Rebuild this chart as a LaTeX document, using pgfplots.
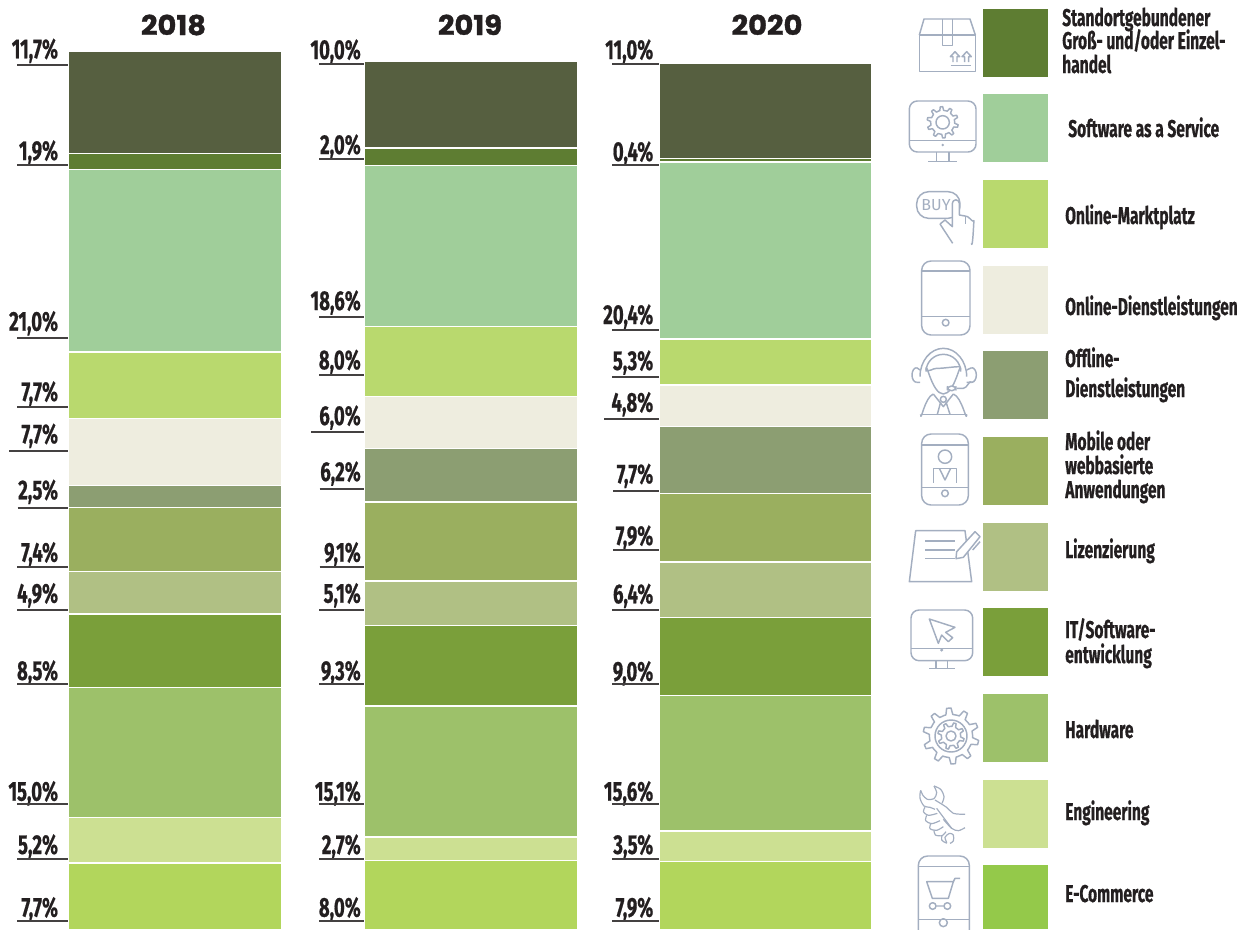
\documentclass[border=0pt]{standalone}
\usepackage{pgfplots}
\pgfplotsset{compat=1.18}
\usepackage{fontspec}
\setmainfont{Fira Sans}
\newfontfamily\condfont[FakeStretch=0.64,BoldFeatures={FakeBold=0.6}]{Fira Sans}
\newfontfamily\labfont[FakeStretch=0.68,BoldFeatures={FakeBold=0.6}]{Fira Sans}
\newfontfamily\titlefont[FakeStretch=1.06,BoldFeatures={FakeBold=1.2}]{Poppins}
\definecolor{cTop}{HTML}{565F40}
\definecolor{cRetail}{HTML}{5E7D32}
\definecolor{cSaas}{HTML}{A0CE9A}
\definecolor{cMarket}{HTML}{B9D96E}
\definecolor{cOnline}{HTML}{EEEDDF}
\definecolor{cOffline}{HTML}{8C9E72}
\definecolor{cMobile}{HTML}{9AAF5F}
\definecolor{cLicense}{HTML}{B0C084}
\definecolor{cIT}{HTML}{7A9F3A}
\definecolor{cHard}{HTML}{9DC16A}
\definecolor{cEng}{HTML}{CCE092}
\definecolor{cEcomBar}{HTML}{B2D65C}
\definecolor{cEcom}{HTML}{94C94A}
\definecolor{ink}{HTML}{231F20}
\definecolor{icon}{HTML}{A3AEC0}
\newcommand{\lab}[5]{% xright, baseline, text, rule start, rule end
  \node[anchor=base east,inner sep=0pt,text=ink,font=\labfont\bfseries\fontsize{20.5}{20.5}\selectfont] at (#1,#2) {#3};
  \draw[line width=1.25pt,color=ink!85] (#4) -- (#5);}
\newcommand{\leg}[3]{\node[anchor=base west,inner sep=0pt,text=ink,font=\condfont\bfseries\fontsize{18.2}{18.2}\selectfont] at (#1,#2) {#3};}
\newcommand{\gear}[5]{% cx cy Rout Rin n
  \begin{scope}[shift={(#1,#2)}]
  \pgfmathsetmacro\st{360/#5}
  \draw (0:#4) \foreach \i in {1,...,#5} {
    -- ({(\i-1)*\st+0.12*\st}:#4) -- ({(\i-1)*\st+0.25*\st}:#3) -- ({(\i-1)*\st+0.5*\st}:#3) -- ({(\i-1)*\st+0.63*\st}:#4) -- ({\i*\st}:#4)} -- cycle;
  \end{scope}}
\begin{document}
\begin{tikzpicture}[x=0.75pt,y=-0.75pt]
\useasboundingbox (0,0) rectangle (1239,929);
\begin{axis}[at={(0pt,-697.3pt)},anchor=south west,scale only axis,width=929.25pt,height=696.75pt,
  xmin=0,xmax=1239,ymin=0,ymax=107.08,hide axis,clip=false,
  ybar stacked,bar width=213,
  every axis plot/.append style={draw=white,line width=1pt}]
\addplot[fill=cEcomBar] coordinates {(175,7.7)(471,8.0)(765.5,7.9)};
\addplot[fill=cEng] coordinates {(175,5.2)(471,2.7)(765.5,3.5)};
\addplot[fill=cHard] coordinates {(175,15.0)(471,15.1)(765.5,15.6)};
\addplot[fill=cIT] coordinates {(175,8.5)(471,9.3)(765.5,9.0)};
\addplot[fill=cLicense] coordinates {(175,4.9)(471,5.1)(765.5,6.4)};
\addplot[fill=cMobile] coordinates {(175,7.4)(471,9.1)(765.5,7.9)};
\addplot[fill=cOffline] coordinates {(175,2.5)(471,6.2)(765.5,7.7)};
\addplot[fill=cOnline] coordinates {(175,7.7)(471,6.0)(765.5,4.8)};
\addplot[fill=cMarket] coordinates {(175,7.7)(471,8.0)(765.5,5.3)};
\addplot[fill=cSaas] coordinates {(175,21.0)(471,18.6)(765.5,20.4)};
\addplot[fill=cRetail] coordinates {(175,1.9)(471,2.0)(765.5,0.4)};
\addplot[fill=cTop] coordinates {(175,11.7)(471,10.0)(765.5,11.0)};
\end{axis}
% titles
\foreach \x/\t in {173.5/2018,470/2019,767/2020}
  \node[anchor=base,inner sep=0pt,text=ink,font=\titlefont\bfseries\fontsize{20.5}{20.5}\selectfont] at (\x,35) {\t};
% labels 2018
\lab{58.3}{58.3}{11,7\%}{17,64.7}{68,64.7}
\lab{58.3}{160}{1,9\%}{17,165}{68,165}
\lab{58.3}{330.7}{21,0\%}{17,337.7}{68,337.7}
\lab{58.3}{401}{7,7\%}{17,407.3}{68,407.3}
\lab{58.3}{443.3}{7,7\%}{9,451}{68,451}
\lab{58.3}{499.3}{2,5\%}{17.5,507.7}{68,507.7}
\lab{58.3}{561.7}{7,4\%}{17,566.7}{68,566.7}
\lab{58.3}{602.7}{4,9\%}{17,610}{68,610}
\lab{58.3}{680}{8,5\%}{17,684.3}{68,684.3}
\lab{58.3}{800.7}{15,0\%}{17,804}{68,804}
\lab{58.3}{854}{5,2\%}{17,859.3}{68,859.3}
\lab{58.3}{916.7}{7,7\%}{17,921}{68,921}
% labels 2019
\lab{361}{59}{10,0\%}{319,64.3}{363.5,64.3}
\lab{361}{154}{2,0\%}{319,159.3}{363.5,159.3}
\lab{361}{310}{18,6\%}{319,316.7}{363.5,316.7}
\lab{361}{369.3}{8,0\%}{319,375}{363.5,375}
\lab{361}{425}{6,0\%}{311,432.3}{363.5,432.3}
\lab{361}{481}{6,2\%}{319.5,489}{363.5,489}
\lab{361}{561.7}{9,1\%}{319.5,566.7}{363.5,566.7}
\lab{361}{602.7}{5,1\%}{319,610}{363.5,610}
\lab{361}{680}{9,3\%}{319,684.3}{363.5,684.3}
\lab{361}{800.7}{15,1\%}{319,804}{363.5,804}
\lab{361}{854}{2,7\%}{319,859.3}{363.5,859.3}
\lab{361}{916.7}{8,0\%}{319,921}{363.5,921}
% labels 2020
\lab{653.5}{59}{11,0\%}{612,64.3}{659,64.3}
\lab{653.5}{161}{0,4\%}{612,165}{659,165}
\lab{653.5}{324}{20,4\%}{612,330}{659,330}
\lab{653.5}{370}{5,3\%}{612,377}{659,377}
\lab{653.5}{411.7}{4,8\%}{604,418.7}{659,418.7}
\lab{653.5}{483.3}{7,7\%}{613,490.7}{659,490.7}
\lab{653.5}{545}{7,9\%}{613,549.7}{659,549.7}
\lab{653.5}{603.3}{6,4\%}{612,610}{659,610}
\lab{653.5}{680.7}{9,0\%}{612,684.3}{659,684.3}
\lab{653.5}{800.7}{15,6\%}{612,804}{659,804}
\lab{653.5}{854}{3,5\%}{612,859.3}{659,859.3}
\lab{653.5}{916.7}{7,9\%}{612,921}{659,921}
% legend swatches
\foreach \ya/\yb/\c in {9/77/cRetail,94/162/cSaas,180/248/cMarket,266/334/cOnline,351/419/cOffline,437/505/cMobile,523/591/cLicense,608/676/cIT,694/762/cHard,780/848/cEng,865/929/cEcom}
  \fill[\c] (983,\ya) rectangle (1048,\yb);
% legend text
\leg{1062}{26}{Standortgebundener}
\leg{1062}{49}{Groß- und/oder Einzel-}
\leg{1062}{73}{handel}
\leg{1068}{137}{Software as a Service}
\leg{1065}{224}{Online-Marktplatz}
\leg{1065}{315}{Online-Dienstleistungen}
\leg{1065}{367}{Offline-}
\leg{1065}{397}{Dienstleistungen}
\leg{1065}{450}{Mobile oder}
\leg{1065}{474}{webbasierte}
\leg{1065}{498}{Anwendungen}
\leg{1065}{558}{Lizenzierung}
\leg{1065}{638}{IT/Software-}
\leg{1065}{663}{entwicklung}
\leg{1065}{738}{Hardware}
\leg{1065}{820}{Engineering}
\leg{1065}{902}{E-Commerce}
% icons, in zoomed coordinates (3x)
\begin{scope}[shift={(900,0)},x=0.25pt,y=-0.25pt,draw=icon,line width=1.1pt,line join=round]
  \draw (58,215) rectangle (226,105);
  \draw (58,105)--(72,57)--(210,57)--(226,105);
  \draw (128,57)--(128,137)--(157,137)--(157,57);
  \draw (152,197)--(212,197);
  \foreach \a in {165,200}{\draw (\a-6,186)--(\a-6,170)--(\a-14,170)--(\a,155)--(\a+14,170)--(\a+6,170)--(\a+6,186);}
  % monitor + gear
  \draw[rounded corners=6pt] (28,303) rectangle (228,456);
  \draw (28,422)--(228,422);
  \fill[icon] (128,435) circle (4);
  \draw (110,456)--(110,484) (147,456)--(147,484) (85,484)--(170,484);
  \gear{128}{367}{47}{36}{10}
  \draw (128,367) circle (20);
  % buy
  \draw[rounded corners=9pt] (50,575) rectangle (180,655);
  \node[text=icon,inner sep=0pt,font=\fontsize{12}{12}\selectfont] at (108,616) {BUY};
  \draw[fill=white] (120,672)--(135,660)--(157,680)--(157,610) arc[start angle=180,end angle=360,radius=10.5]--(178,645) to[out=0,in=180] (195,648) to[out=0,in=160] (222,665) to[out=90,in=-80] (214,730);
  \draw (120,672)--(158,730);
  \draw (197,648)--(197,672);
  % tablet
  \draw[rounded corners=7pt] (65,783) rectangle (210,1005);
  \draw (65,813)--(210,813) (65,950)--(210,950);
  \draw (137,968) circle (10);
\end{scope}
\begin{scope}[shift={(900,320)},x=0.25pt,y=-0.25pt,draw=icon,line width=1.1pt,line join=round]
  % person
  \draw (60,170) arc[start angle=180,end angle=360,x radius=70,y radius=85];
  \draw (78,155) arc[start angle=180,end angle=360,x radius=52,y radius=52];
  \draw (78,150) to[out=-30,in=180] (110,145) to[out=0,in=180] (182,140);
  \draw (78,150) to[out=90,in=180] (130,222) to[out=0,in=90] (182,150);
  \draw (50,143) arc[start angle=-90,end angle=-270,x radius=14,y radius=22];
  \draw (50,143)--(60,150) (50,187)--(60,187);
  \draw (215,143) arc[start angle=-90,end angle=90,x radius=14,y radius=22];
  \draw (215,143)--(200,150) (215,187)--(200,187);
  \draw (215,187) to[out=120,in=0] (190,205) -- (170,205);
  \draw[rounded corners=3pt,fill=white] (142,198) rectangle (168,212);
  \draw (62,283) to[out=-90,in=200] (100,222) (200,283) to[out=-90,in=-20] (160,222);
  \draw (62,283)--(200,283);
  \draw (100,222)--(130,260)--(160,222);
  \draw (130,238) circle (9);
  \draw (122,246)--(112,283)(138,246)--(150,283);
  % mobile
  \draw[rounded corners=7pt] (65,342) rectangle (205,555);
  \draw (65,375)--(205,375) (65,503)--(205,503);
  \draw (135,520) circle (10);
  \draw (135,410) circle (20);
  \draw (100,488)--(100,445)--(170,445)--(170,488);
  \draw (118,445)--(135,480)--(152,445);
  % license
  \draw (47,632)--(195,632)--(215,785)--(28,785)--cycle;
  \draw (75,663)--(165,663) (75,690)--(165,690) (75,716)--(165,716);
  \draw[fill=white] (170,695)--(225,635)--(240,650)--(190,712)--(168,716)--cycle;
  \draw (218,690)--(240,665);
\end{scope}
\begin{scope}[shift={(900,600)},x=0.25pt,y=-0.25pt,draw=icon,line width=1.1pt,line join=round]
  \draw[rounded corners=6pt] (33,30) rectangle (218,182);
  \draw (33,145)--(218,145);
  \fill[icon] (125,150) circle (5);
  \draw (108,182)--(108,205) (143,182)--(143,205) (88,205)--(165,205);
  \draw (88,57)--(165,82)--(137,97)--(158,113)--(145,125)--(125,105)--(115,130)--cycle;
  % gear
  \gear{153}{408}{84}{65}{10}
  \draw (153,408) circle (48);
  \gear{153}{408}{40}{29}{8}
  \draw (153,408) circle (15);
  % ecommerce phone
  \draw[rounded corners=7pt] (55,768) rectangle (208,1040);
  \draw (55,800)--(208,800) (55,958)--(208,958);
  \draw (80,845)--(160,845)--(145,895)--(97,895)--cycle;
  \draw (160,845)--(165,835)--(180,835);
  \draw (98,918) circle (10) (142,918) circle (10) (108,918)--(132,918);
  \draw (130,968) circle (12);
\end{scope}
% hand + wrench
\begin{scope}[shift={(910,780)},x=0.25pt,y=-0.25pt,draw=icon,line width=0.9pt,line join=round]
  \draw plot[smooth] coordinates {(72,18)(92,28)(102,50)(96,70)};
  \draw plot[smooth] coordinates {(72,18)(80,38)(72,56)(52,58)(38,45)(32,32)(30,55)(42,78)(60,82)(75,88)};
  \draw plot[smooth] coordinates {(75,60)(110,82)(130,100)(165,103)};
  \draw plot[smooth] coordinates {(45,82)(40,95)(55,106)(82,100)};
  \draw plot[smooth] coordinates {(50,106)(47,122)(65,131)(90,122)};
  \draw plot[smooth] coordinates {(62,131)(60,146)(80,151)(100,140)};
  \draw plot[smooth] coordinates {(72,151)(76,165)(96,167)(108,155)};
  \draw plot[smooth] coordinates {(100,118)(125,145)(145,152)(165,143)};
  \draw plot[smooth] coordinates {(96,167)(95,180)(110,189)(105,172)(118,160)(130,165)(130,183)(120,190)};
  \draw (80,85)--(125,145);
\end{scope}
\end{tikzpicture}
\end{document}
